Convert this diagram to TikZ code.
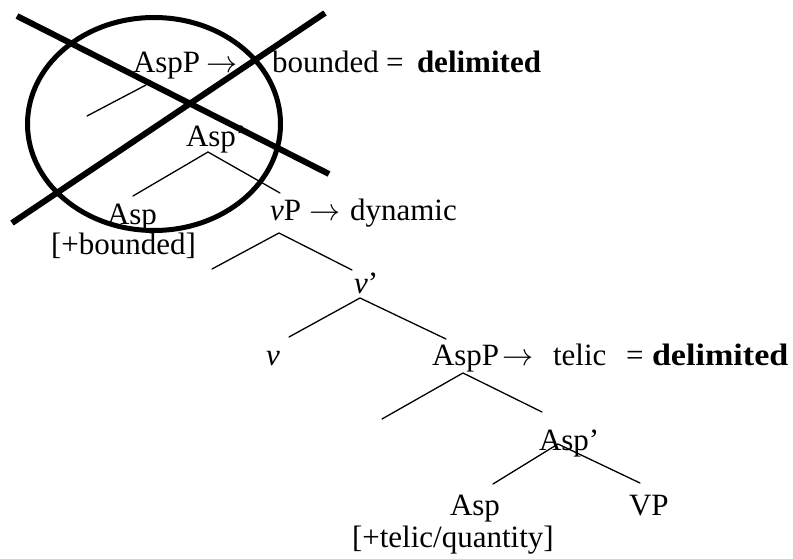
\documentclass[tikz,border=0pt]{standalone}
\usepackage{fontspec}
\setmainfont{Liberation Serif}
\newcommand{\longarr}{\scalebox{1.25}{\fontsize{24.88}{30}\selectfont$\rightarrow$}}
\begin{document}
\begin{tikzpicture}[x=1pt,y=-1pt,
  lbl/.style={anchor=base west,inner sep=0pt,outer sep=0pt,font=\fontsize{31}{36}\selectfont},
  branch/.style={line width=1.3pt,line cap=round},
  ring/.style={line width=5pt},
  cross/.style={line width=6pt}]
\useasboundingbox (0,0) rectangle (793,559);

% upper (crossed-out) part
\node[lbl] (aAspP) at (133,73) {AspP};
\node[lbl] (aArr) at (206,73) {\longarr};
\node[lbl] (aBnd) at (272,73) {bounded};
\node[lbl] (aEq) at (386,73) {=};
\node[lbl] (aDel) at (417,73) {\textbf{delimited}};
\node[lbl] (aAspBar) at (186,147) {Asp’};
\node[lbl] (aAsp) at (107,224) {Asp};
\node[lbl] (aFeat) at (51,254) {[+bounded]};

% vP
\node[lbl] (vP) at (270,220) {\textit{v}P};
\node[lbl] (vArr) at (309,220) {\longarr};
\node[lbl] (vDyn) at (350,220) {dynamic};
\node[lbl] (vBar) at (354,293) {\textit{v}’};
\node[lbl] (vHead) at (266,365) {\textit{v}};

% lower AspP
\node[lbl] (bAspP) at (432,365) {AspP};
\node[lbl] (bArr) at (502,365) {\longarr};
\node[lbl] (bTel) at (553,365) {telic};
\node[lbl] (bEq) at (626,365) {=};
\node[lbl] (bDel) at (652,365) {\scalebox{1.1}[1]{\textbf{delimited}}};
\node[lbl] (bAspBar) at (539,450) {Asp’};
\node[lbl] (bAsp) at (450,515) {Asp};
\node[lbl] (bVP) at (629,515) {VP};
\node[lbl] (bFeat) at (352,547) {[+telic/quantity]};

% branch points
\coordinate (aTop) at (146,85);
\coordinate (aSpec) at (87,116);
\coordinate (aBarTop) at (208,152);
\coordinate (aHeadEnd) at (133,196);
\coordinate (aCompEnd) at (280,193);
\coordinate (vTop) at (279,233);
\coordinate (vSpec) at (212,269);
\coordinate (vBarEnd) at (352,270);
\coordinate (vBarTop) at (360,298);
\coordinate (vHeadEnd) at (289,337);
\coordinate (vCompEnd) at (446,339);
\coordinate (bTop) at (463,373);
\coordinate (bSpec) at (382,419);
\coordinate (bBarEnd) at (542,412);
\coordinate (bBarTop) at (558,444);
\coordinate (bHeadEnd) at (493,484);
\coordinate (bCompEnd) at (640,483);

\draw[branch] (aTop) -- (aSpec);
\draw[branch] (aHeadEnd) -- (aBarTop) -- (aCompEnd);
\draw[branch] (vSpec) -- (vTop) -- (vBarEnd);
\draw[branch] (vHeadEnd) -- (vBarTop) -- (vCompEnd);
\draw[branch] (bSpec) -- (bTop) -- (bBarEnd);
\draw[branch] (bHeadEnd) -- (bBarTop) -- (bCompEnd);

% crossing out
\coordinate (ringC) at (154,124);
\draw[ring] (ringC) ellipse [x radius=126.5, y radius=106.5];
\coordinate (c1a) at (17,16);
\coordinate (c1b) at (329,174);
\coordinate (c2a) at (325,13);
\coordinate (c2b) at (12,223);
\draw[cross] (c1a) -- (c1b);
\draw[cross] (c2a) -- (c2b);
\end{tikzpicture}
\end{document}
